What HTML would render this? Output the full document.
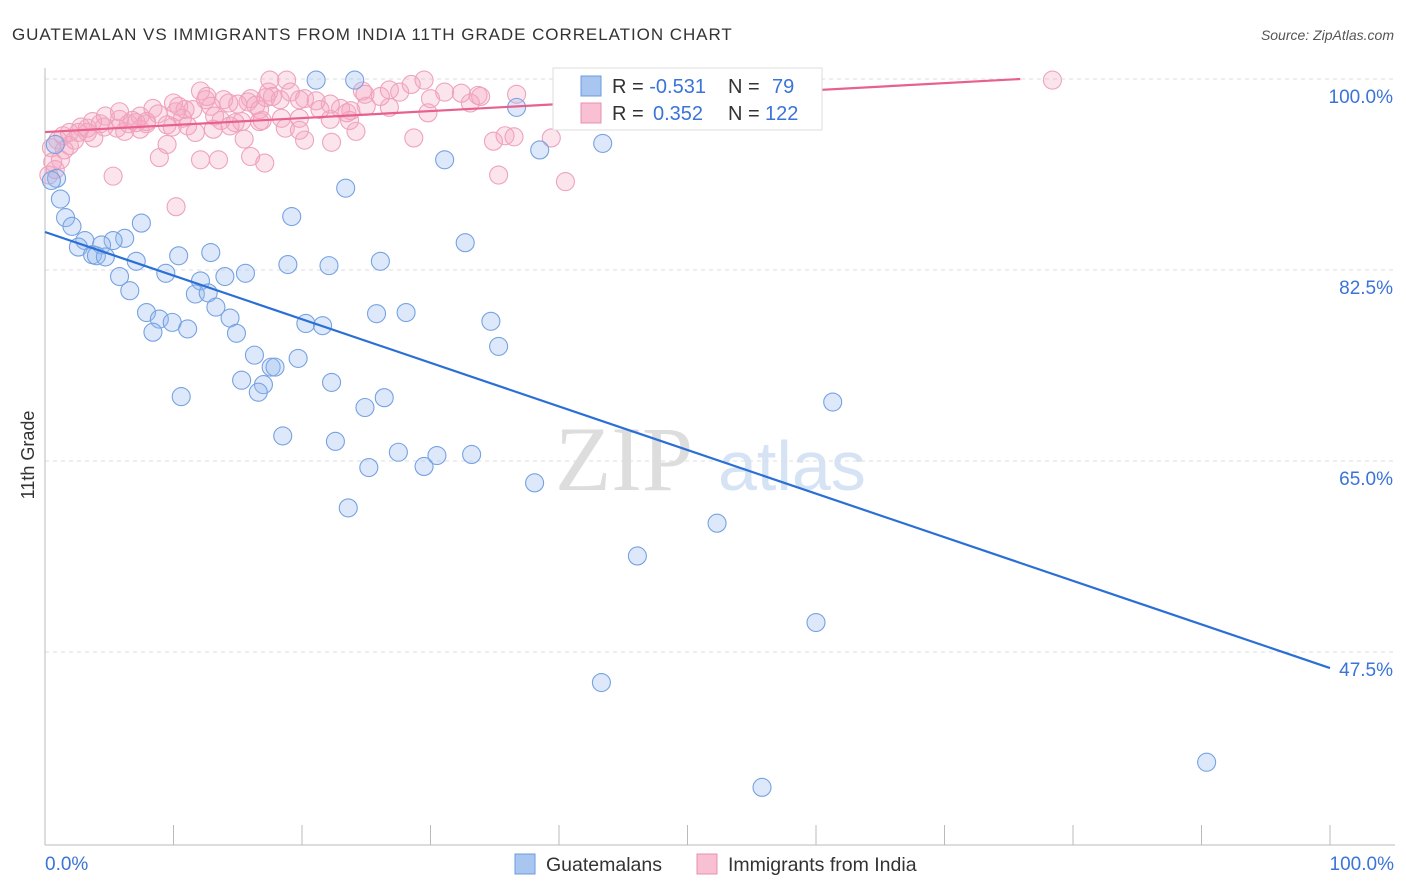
<!DOCTYPE html>
<html><head><meta charset="utf-8"><style>
body{margin:0;background:#fff;font-family:"Liberation Sans",sans-serif;}
svg{display:block}
</style></head><body>
<svg id="chart" width="1406" height="892" xmlns="http://www.w3.org/2000/svg">
<text x="12" y="40" font-size="17" letter-spacing="0.95" fill="#333">GUATEMALAN VS IMMIGRANTS FROM INDIA 11TH GRADE CORRELATION CHART</text>
<text x="1394" y="40" font-size="14" fill="#555" text-anchor="end" font-style="italic">Source: ZipAtlas.com</text>
<g><text x="555" y="490" font-size="92" fill="#ddd" font-family="Liberation Serif,serif">ZIP</text><text x="718" y="490" font-size="70" fill="#d6e3f5">atlas</text></g>
<g id="grid"></g><g id="axes"></g>
<g id="pink"></g><g id="blue"></g><g id="lines"></g>
<text transform="translate(34,455) rotate(-90)" font-size="18" fill="#333" text-anchor="middle">11th Grade</text>
<text x="45" y="870" font-size="19" fill="#3a74d8">0.0%</text>
<text x="1394" y="870" font-size="19" fill="#3a74d8" text-anchor="end">100.0%</text>
<g>
<rect x="553" y="68" width="269" height="62" fill="#fff" stroke="#ddd"/>
<rect x="581" y="76" width="20" height="20" fill="#a8c6f0" stroke="#6b9be0"/>
<rect x="581" y="103" width="20" height="20" fill="#f8c0d2" stroke="#e890ad"/>
<text x="612" y="93" font-size="20" fill="#333">R = <tspan fill="#3a74d8">-0.531</tspan><tspan x="728">N = </tspan><tspan fill="#3a74d8" x="772">79</tspan></text>
<text x="612" y="120" font-size="20" fill="#333">R = <tspan fill="#3a74d8" x="653">0.352</tspan><tspan x="728">N = </tspan><tspan fill="#3a74d8" x="765">122</tspan></text>
</g>
<g><rect x="515" y="854" width="20" height="20" fill="#a8c6f0" stroke="#6b9be0"/><text x="546" y="871" font-size="19.5" fill="#333">Guatemalans</text></g>
<g><rect x="697" y="854" width="20" height="20" fill="#f8c0d2" stroke="#e890ad"/><text x="728" y="871" font-size="19.5" fill="#333">Immigrants from India</text></g>
</svg>
<script>
const yTicks=[100,82.5,65,47.5];
const yTickLabels=["100.0%","82.5%","65.0%","47.5%"];
const xTicks=[0,10,20,30,40,50,60,70,80,90,100];
const blueX=[21.1,24.1,58.5,36.7,43.4,38.5,31.1,23.4,1.2,19.2,1.6,2.1,7.5,32.7,3.1,6.2,5.3,2.6,4.4,3.7,4.0,4.7,12.9,10.4,7.1,18.9,22.1,26.1,15.6,14.0,9.4,5.8,12.1,6.6,11.7,12.7,13.3,7.9,8.9,9.9,11.1,8.4,14.4,14.9,25.8,28.1,20.3,21.6,34.7,35.3,16.3,19.7,17.6,17.9,15.3,17.0,16.6,22.3,10.6,26.4,24.9,61.3,18.5,22.6,27.5,30.5,33.2,25.2,29.5,38.1,23.6,52.3,46.1,60.0,43.3,90.4,55.8,0.8,0.9,0.5];
const blueY=[99.9,99.9,99.9,97.4,94.1,93.5,92.6,90.0,89.0,87.4,87.3,86.5,86.8,85.0,85.2,85.4,85.2,84.6,84.8,83.9,83.8,83.7,84.1,83.8,83.3,83.0,82.9,83.3,82.2,81.9,82.2,81.9,81.5,80.6,80.3,80.4,79.1,78.6,78.0,77.7,77.1,76.8,78.1,76.7,78.5,78.6,77.6,77.4,77.8,75.5,74.7,74.4,73.6,73.6,72.4,72.0,71.3,72.2,70.9,70.8,69.9,70.4,67.3,66.8,65.8,65.5,65.6,64.4,64.5,63.0,60.7,59.3,56.3,50.2,44.7,37.4,35.1,94.0,90.9,90.7];
const pinkX=[78.4,17.5,18.8,29.5,28.5,12.1,31.1,32.4,36.7,33.7,33.9,17.4,19.1,24.7,24.9,27.6,12.6,13.9,12.5,16.0,14.3,15.8,17.7,20.2,21.1,30.0,10.0,8.4,10.9,11.5,12.9,15.0,16.4,23.0,23.8,25.0,26.8,29.8,22.2,23.5,18.4,16.7,15.3,13.7,10.7,10.2,8.8,7.4,6.8,5.8,4.7,3.7,2.8,1.9,1.4,1.0,0.5,4.6,5.6,6.2,7.9,9.9,11.1,13.1,14.8,16.9,18.7,19.8,20.2,22.3,24.2,28.7,34.9,35.8,36.5,39.4,12.1,13.5,9.5,8.9,15.5,16.0,17.1,5.3,35.3,40.5,10.2,3.8,3.3,2.6,4.3,7.4,9.5,11.7,1.2,0.8,1.9,0.6,0.3,19.8,33.1,22.2,7.9,6.5,7.1,10.4,13.2,16.7,14.4,18.3,19.8,21.4,23.7,26.1,26.8,17.2,5.8,3.3,2.3,1.5];
const pinkY=[99.9,99.9,99.9,99.9,99.5,98.9,98.8,98.7,98.6,98.5,98.4,98.8,98.8,98.9,98.6,98.8,98.4,98.1,98.1,98.2,97.8,97.9,98.4,98.2,98.0,98.2,97.8,97.3,97.2,97.2,97.5,97.7,97.6,97.3,97.1,97.5,97.4,96.9,96.3,96.9,96.4,96.1,96.1,96.2,96.4,97.0,96.8,96.6,96.2,96.3,96.6,96.1,95.6,95.1,94.8,94.4,93.7,95.6,95.5,95.2,95.9,95.6,95.7,95.4,96.0,96.2,95.5,96.4,94.4,94.2,95.2,94.6,94.3,94.8,94.7,94.6,92.6,92.6,94.0,92.8,94.5,92.9,92.3,91.1,91.2,90.6,88.3,94.6,95.1,95.1,95.9,95.4,95.8,95.1,92.6,91.7,93.9,92.4,91.2,98.1,97.8,97.7,96.1,95.9,96.0,97.5,96.6,97.2,95.7,98.1,95.3,97.2,96.2,98.4,99.0,98.3,97.0,95.5,94.4,93.5];
const blueTrend=[0,85.98,100,46.03];
const pinkTrend=[0,95.14,75.9,100];
const X=v=>45+v*12.85, Y=v=>79+(100-v)*10.914;
const NS="http://www.w3.org/2000/svg";
function mk(tag,parent,attrs){const e=document.createElementNS(NS,tag);for(const k in attrs)e.setAttribute(k,attrs[k]);document.getElementById(parent).appendChild(e);return e;}
yTicks.forEach((t,i)=>{
 const l=mk('line','grid',{x1:45,x2:1395,y1:Y(t),y2:Y(t),stroke:'#ddd','stroke-dasharray':'4,4'});
 
 
 const tx=mk('text','grid',{x:1393,y:Y(t)+24,'font-size':19,fill:'#3a74d8','text-anchor':'end'});
 tx.textContent=yTickLabels[i];
 
 
});
let a=mk('line','axes',{x1:45,x2:45,y1:68,y2:845,stroke:'#bbb'});


a=mk('line','axes',{x1:45,x2:1395,y1:845,y2:845,stroke:'#bbb'});


xTicks.forEach(t=>{const e=mk('line','axes',{x1:X(t),x2:X(t),y1:825,y2:845,stroke:'#bbb'});
 
 });
pinkX.forEach((v,i)=>{const c=mk('circle','pink',{cx:X(v),cy:Y(pinkY[i]),r:9,fill:'rgba(244,165,192,0.3)',stroke:'#eea3bc','stroke-width':1.1});
 
 });
blueX.forEach((v,i)=>{const c=mk('circle','blue',{cx:X(v),cy:Y(blueY[i]),r:9,fill:'rgba(150,188,238,0.32)',stroke:'#76a2e2','stroke-width':1.1});
 
 });
let ln=mk('line','lines',{x1:X(blueTrend[0]),y1:Y(blueTrend[1]),x2:X(blueTrend[2]),y2:Y(blueTrend[3]),stroke:'#2a6fd6','stroke-width':2.2});


ln=mk('line','lines',{x1:X(pinkTrend[0]),y1:Y(pinkTrend[1]),x2:X(pinkTrend[2]),y2:Y(pinkTrend[3]),stroke:'#e8608c','stroke-width':2.2});


</script>
</body></html>
